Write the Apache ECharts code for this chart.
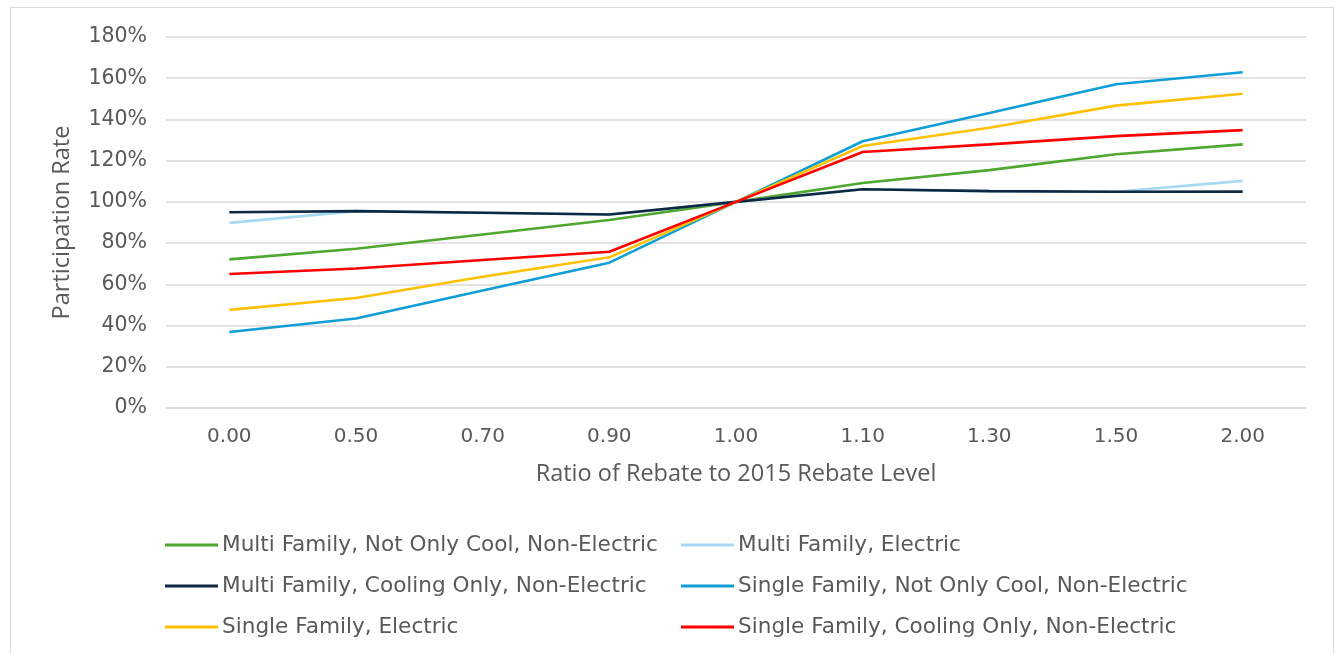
<!DOCTYPE html>
<html>
<head>
<meta charset="utf-8">
<script src="https://cdn.jsdelivr.net/npm/echarts@6/dist/echarts.min.js"></script>
<style>
html,body{margin:0;padding:0;background:#fff;}
#chart{width:1338px;height:654px;}
</style>
</head>
<body>
<div id="chart"></div>
<script>
const categories = ['0.00','0.50','0.70','0.90','1.00','1.10','1.30','1.50','2.00'];
const yTicks = [0,20,40,60,80,100,120,140,160,180];

const seriesNames = [
  'Multi Family, Not Only Cool, Non-Electric',
  'Multi Family, Electric',
  'Multi Family, Cooling Only, Non-Electric',
  'Single Family, Not Only Cool, Non-Electric',
  'Single Family, Electric',
  'Single Family, Cooling Only, Non-Electric'
];
const multiNotOnlyCool = [72.1, 77.3, 84.2, 91.2, 100, 109.2, 115.4, 123.1, 127.9];
const multiElectric    = [89.8, 95.5, 94.7, 93.9, 100, 106.1, 105.2, 104.9, 110.2];
const multiCoolingOnly = [95.0, 95.5, 94.7, 93.9, 100, 106.1, 105.2, 104.9, 105.0];
const singleNotOnlyCool= [36.9, 43.4, 57.0, 70.5, 100, 129.4, 143.1, 157.1, 162.9];
const singleElectric   = [47.6, 53.4, 63.7, 73.1, 100, 127.1, 136.0, 146.7, 152.5];
const singleCoolingOnly= [65.0, 67.7, 71.8, 75.8, 100, 124.2, 127.9, 131.9, 134.8];

const colors = ['#4EA72E','#A6DAF2','#0E2841','#0F9ED5','#FFC000','#FF0000'];
const dataSets = [multiNotOnlyCool, multiElectric, multiCoolingOnly, singleNotOnlyCool, singleElectric, singleCoolingOnly];

const chart = echarts.init(document.getElementById('chart'), null, {renderer:'canvas'});
const tickFont = 'DejaVu Sans';
const titleFont = '"Open Sans"';

const legendCommon = {
  orient: 'vertical',
  icon: 'rect',
  itemWidth: 53,
  itemHeight: 3,
  itemGap: 17,
  padding: 0,
  textStyle: {fontFamily: tickFont, fontSize: 21.6, color: '#595959', lineHeight: 24, padding:[0,0,0,-1]},
  top: 533
};

chart.setOption({
  animation: false,
  color: colors,
  graphic: [{
    type: 'rect',
    shape: {x: 10.5, y: 7.5, width: 1323, height: 660},
    style: {fill: 'none', stroke: '#d9d9d9', lineWidth: 1},
    silent: true, z: -1
  }],
  grid: {left: 166, right: 32, top: 37, bottom: 246, containLabel: false},
  legend: [
    Object.assign({}, legendCommon, {left: 165, data: [seriesNames[0], seriesNames[2], seriesNames[4]]}),
    Object.assign({}, legendCommon, {left: 681, data: [seriesNames[1], seriesNames[3], seriesNames[5]]})
  ],
  xAxis: {
    type: 'category',
    data: categories,
    boundaryGap: true,
    name: 'Ratio of Rebate to 2015 Rebate Level',
    nameLocation: 'middle',
    nameGap: 54,
    nameTextStyle: {fontFamily: titleFont, fontSize: 23.5, color: '#595959'},
    axisLine: {show: true, lineStyle: {color: '#d9d9d9', width: 1.5}},
    axisTick: {show: false},
    axisLabel: {fontFamily: tickFont, fontSize: 20, color: '#595959', margin: 19}
  },
  yAxis: {
    type: 'value',
    min: yTicks[0],
    max: yTicks[yTicks.length-1],
    interval: yTicks[1]-yTicks[0],
    name: 'Participation Rate',
    nameLocation: 'middle',
    nameGap: 92,
    nameRotate: 90,
    nameTextStyle: {fontFamily: titleFont, fontSize: 23.5, color: '#595959'},
    axisLine: {show: false},
    axisTick: {show: false},
    splitLine: {lineStyle: {color: '#d9d9d9', width: 1.5}},
    axisLabel: {fontFamily: tickFont, fontSize: 20.5, color: '#595959', margin: 19,
      formatter: v => v + '%'}
  },
  series: seriesNames.map((n, i) => ({
    name: n,
    type: 'line',
    data: dataSets[i],
    symbol: 'none',
    lineStyle: {width: 2.6, color: colors[i]},
    itemStyle: {color: colors[i]},
    z: 2 + i
  }))
});
</script>
</body>
</html>
